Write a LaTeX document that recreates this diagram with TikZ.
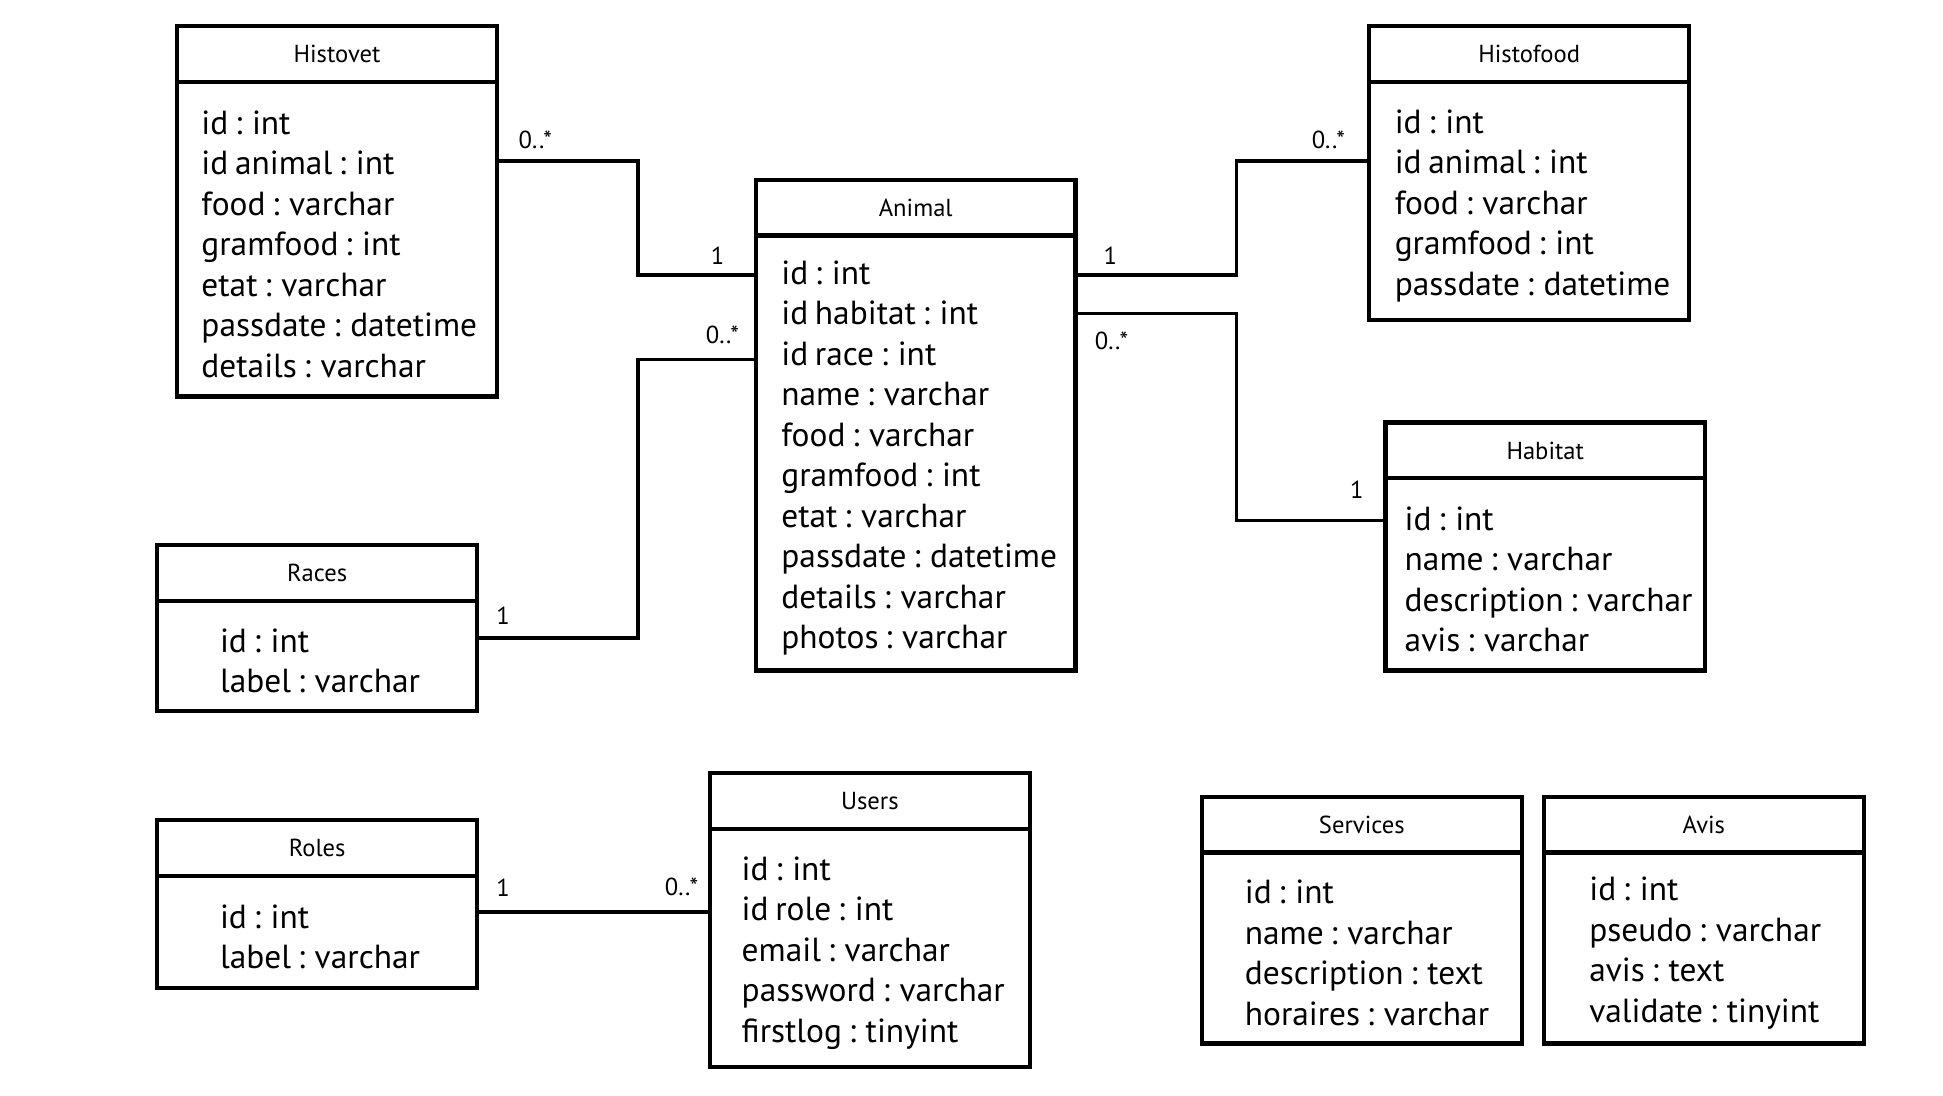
\documentclass[tikz,border=0pt]{standalone}
\usepackage{fontspec}
\setmainfont{PT Sans}[WordSpace=0.75]
\usetikzlibrary{positioning}
\newcommand\pxu{0.012392cm}

\tikzset{
  classname/.style={draw, line width=1.2pt, outer sep=0pt, inner sep=0pt, anchor=north west,
    minimum width=258*\pxu, minimum height=45*\pxu, font=\fontsize{7}{8}\selectfont},
  body/.style={draw, line width=1.2pt, outer sep=0pt, inner sep=0pt, anchor=north,
    minimum width=258*\pxu},
  fields/.style={anchor=west, align=left, inner sep=0pt, yshift=-4*\pxu,
    font=\fontsize{9.5}{11.52}\selectfont},
  mult/.style={inner sep=0pt, font=\fontsize{7}{8}\selectfont},
  link/.style={line width=1pt}
}

\begin{document}
\begin{tikzpicture}[x=\pxu, y=-\pxu]
  \useasboundingbox (0,0) rectangle (1568,884);

  \node (histovet) [classname] at (143,21) {Histovet};
  \node (histovetb) [body, minimum height=254*\pxu] at (histovet.south) {};
  \node (histovetf) [fields] at ([xshift=19*\pxu]histovetb.west) {id : int\\ id animal : int\\ food : varchar\\ gramfood : int\\ etat : varchar\\ passdate : datetime\\ details : varchar};

  \node (animal) [classname] at (610,145) {Animal};
  \node (animalb) [body, minimum height=351*\pxu] at (animal.south) {};
  \node (animalf) [fields] at ([xshift=20*\pxu]animalb.west) {id : int\\ id habitat : int\\ id race : int\\ name : varchar\\ food : varchar\\ gramfood : int\\ etat : varchar\\ passdate : datetime\\ details : varchar\\ photos : varchar};

  \node (histofood) [classname] at (1105,21) {Histofood};
  \node (histofoodb) [body, minimum height=192*\pxu] at (histofood.south) {};
  \node (histofoodf) [fields] at ([xshift=20*\pxu]histofoodb.west) {id : int\\ id animal : int\\ food : varchar\\ gramfood : int\\ passdate : datetime};

  \node (habitat) [classname] at (1118,341) {Habitat};
  \node (habitatb) [body, minimum height=155*\pxu] at (habitat.south) {};
  \node (habitatf) [fields] at ([xshift=15*\pxu]habitatb.west) {id : int\\ name : varchar\\ description : varchar\\ avis : varchar};

  \node (races) [classname] at (127,440) {Races};
  \node (racesb) [body, minimum height=89*\pxu] at (races.south) {};
  \node (racesf) [fields] at ([xshift=50*\pxu]racesb.west) {id : int\\ label : varchar};

  \node (roles) [classname] at (127,662) {Roles};
  \node (rolesb) [body, minimum height=90*\pxu] at (roles.south) {};
  \node (rolesf) [fields] at ([xshift=50*\pxu]rolesb.west) {id : int\\ label : varchar};

  \node (users) [classname] at (573,624) {Users};
  \node (usersb) [body, minimum height=192*\pxu] at (users.south) {};
  \node (usersf) [fields] at ([xshift=25*\pxu]usersb.west) {id : int\\ id role : int\\ email : varchar\\ password : varchar\\ firstlog : tinyint};

  \node (services) [classname] at (970,643) {Services};
  \node (servicesb) [body, minimum height=154*\pxu] at (services.south) {};
  \node (servicesf) [fields] at ([xshift=34*\pxu]servicesb.west) {id : int\\ name : varchar\\ description : text\\ horaires : varchar};

  \node (avis) [classname] at (1246,643) {Avis};
  \node (avisb) [body, minimum height=154*\pxu] at (avis.south) {};
  \node (avisf) [fields] at ([xshift=36*\pxu]avisb.west) {id : int\\ pseudo : varchar\\ avis : text\\ validate : tinyint};

  \draw [link] (histovetb.east |- 0,130) -| (515,176) |- (animalb.west |- 0,222);
  \draw [link] (racesb.east |- 0,515) -| (515,400) |- (animalb.west |- 0,290);
  \draw [link] (animalb.east |- 0,222) -| (998,176) |- (histofoodb.west |- 0,130);
  \draw [link] (animalb.east |- 0,253) -| (998,336) |- (habitatb.west |- 0,420);
  \draw [link] (rolesb.east |- 0,736) -- (usersb.west |- 0,736);

  \node [mult] at (432,113) {0..*};
  \node [mult] at (579,206) {1};
  \node [mult] at (583,270) {0..*};
  \node [mult] at (406,497) {1};
  \node [mult] at (896,206) {1};
  \node [mult] at (1072,113) {0..*};
  \node [mult] at (897,275) {0..*};
  \node [mult] at (1095,395) {1};
  \node [mult] at (406,716) {1};
  \node [mult] at (550,716) {0..*};
\end{tikzpicture}
\end{document}
